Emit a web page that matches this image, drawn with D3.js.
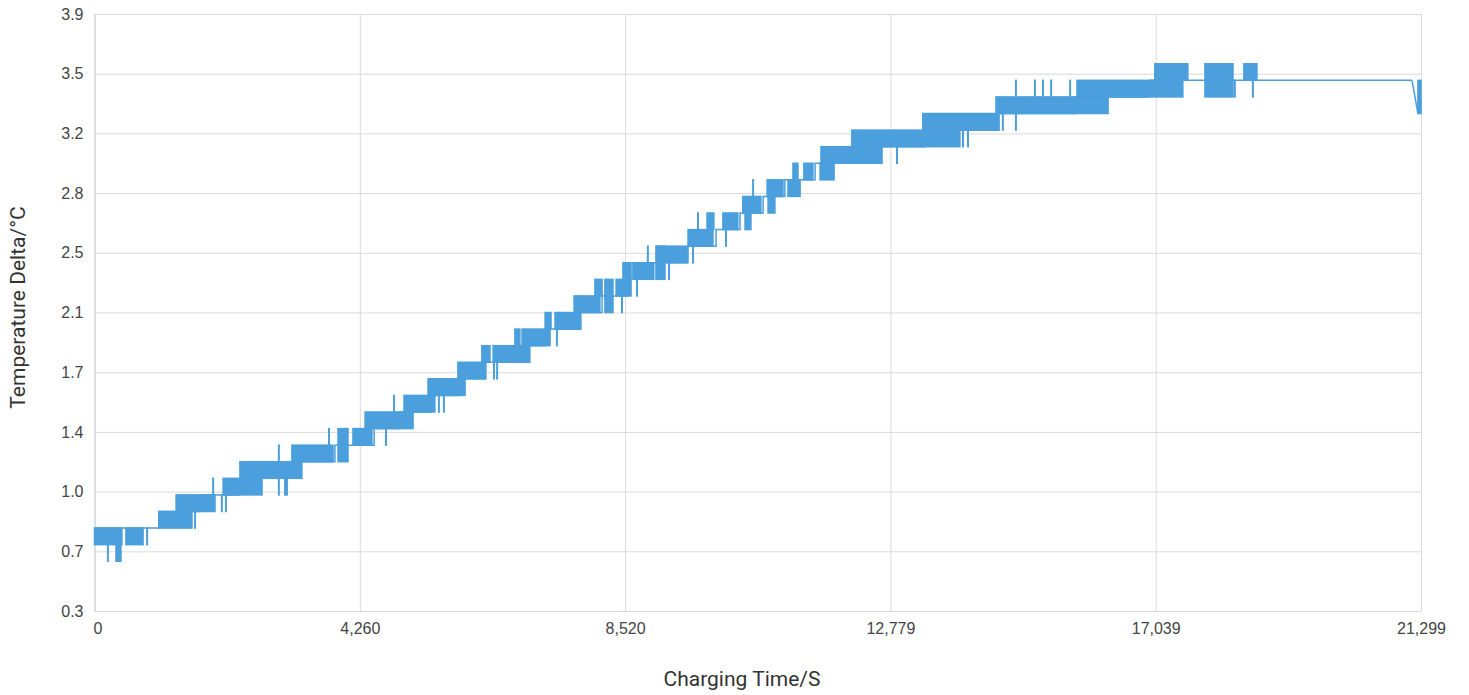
<!DOCTYPE html>
<html>
<head>
<meta charset="utf-8">
<script src="https://cdn.jsdelivr.net/npm/d3@7"></script>
<style>
    body { margin: 0; background: #fff; }
    svg { display: block; font-family: Roboto, "Noto Sans", sans-serif; }
</style>
</head>
<body>
<div id="chart"></div>
<script>
// Dense oscillation bands: the reading flips between two 0.1°C levels over a time span
const blockStart = [0, 505, 345, 1035, 1310, 2065, 2335, 3170, 3910, 4150, 4345, 4970, 5355, 5835, 6220, 6400, 6750, 6865, 7235, 7395, 7700, 7810, 8035, 8195, 8375, 8485, 8645, 9015, 9030, 9530, 9835, 10090, 10410, 10445, 10800, 10815, 11135, 11215, 11390, 11650, 11665, 12160, 13300, 14475, 15775, 17025, 17830, 18455, 21250];
const blockEnd = [440, 780, 425, 1565, 1935, 2690, 3330, 3830, 4070, 4455, 5115, 5465, 5950, 6270, 6350, 6990, 6830, 7315, 7330, 7685, 7810, 8115, 8150, 8325, 8615, 8615, 8970, 9160, 9515, 9930, 9945, 10330, 10700, 10540, 11055, 10925, 11330, 11295, 11535, 11875, 12645, 13895, 14525, 16275, 17475, 17555, 18280, 18665, 21299];
const blockLow = [0.7, 0.7, 0.6, 0.8, 0.9, 1.0, 1.1, 1.2, 1.2, 1.3, 1.4, 1.5, 1.6, 1.7, 1.8, 1.8, 1.9, 1.9, 2.0, 2.0, 2.0, 2.1, 2.2, 2.1, 2.2, 2.3, 2.3, 2.3, 2.4, 2.5, 2.6, 2.6, 2.7, 2.6, 2.8, 2.7, 2.8, 2.9, 2.9, 2.9, 3.0, 3.1, 3.2, 3.3, 3.4, 3.5, 3.4, 3.5, 3.3];
const blockHigh = [0.8, 0.8, 0.7, 0.9, 1.0, 1.1, 1.2, 1.3, 1.4, 1.4, 1.5, 1.6, 1.7, 1.8, 1.9, 1.9, 2.0, 2.0, 2.1, 2.1, 2.2, 2.2, 2.3, 2.3, 2.3, 2.4, 2.4, 2.5, 2.5, 2.6, 2.7, 2.7, 2.8, 2.7, 2.9, 2.8, 2.9, 3.0, 3.0, 3.0, 3.1, 3.2, 3.3, 3.4, 3.5, 3.6, 3.6, 3.6, 3.5];

// Single isolated jumps
const spikeTime = [215, 845, 1615, 1905, 2045, 2110, 2960, 3060, 3090, 3765, 4680, 4810, 5530, 5610, 6415, 6465, 7425, 8470, 8710, 8885, 9225, 9610, 9690, 10140, 10575, 12885, 13945, 14025, 14585, 14795, 15100, 15230, 15360, 15665, 18310, 18600];
const spikeLow = [0.6, 0.7, 0.8, 1.0, 0.9, 0.9, 1.0, 1.0, 1.0, 1.3, 1.3, 1.5, 1.5, 1.5, 1.7, 1.7, 1.9, 2.1, 2.2, 2.4, 2.3, 2.4, 2.6, 2.5, 2.8, 3.0, 3.1, 3.1, 3.2, 3.2, 3.4, 3.4, 3.4, 3.4, 3.4, 3.4];
const spikeHigh = [0.7, 0.8, 0.9, 1.1, 1.0, 1.0, 1.3, 1.1, 1.1, 1.4, 1.4, 1.6, 1.6, 1.6, 1.8, 1.8, 2.0, 2.2, 2.3, 2.5, 2.4, 2.5, 2.7, 2.6, 2.9, 3.1, 3.2, 3.2, 3.3, 3.5, 3.5, 3.5, 3.5, 3.5, 3.5, 3.5];

// Resting level of the trace between the bands
const stepTime = [0, 1035, 1695, 2335, 3140, 3860, 4490, 4905, 5385, 5870, 6285, 6830, 7235, 7795, 8150, 8565, 8980, 9530, 9980, 10365, 10735, 11085, 11570, 12130, 13335, 14505, 15745, 16945, 21155];
const stepTemp = [0.8, 0.9, 1.0, 1.1, 1.2, 1.3, 1.4, 1.5, 1.6, 1.7, 1.8, 1.9, 2.0, 2.1, 2.2, 2.3, 2.4, 2.5, 2.6, 2.7, 2.8, 2.9, 3.0, 3.1, 3.2, 3.3, 3.4, 3.5, 3.5];
const tailTime = [21155, 21250];
const tailTemp = [3.5, 3.3];

const xTicks = [0, 4259.8, 8519.6, 12779.4, 17039.2, 21299];
const yTicks = [0.3, 0.66, 1.02, 1.38, 1.74, 2.1, 2.46, 2.82, 3.18, 3.54, 3.9];

const width = 1469;
const height = 695;
const margin = { top: 14, right: 48, bottom: 84, left: 94.5 };
const innerW = width - margin.left - margin.right;
const innerH = height - margin.top - margin.bottom;
const blue = '#4a9fdc';

const svg = d3.select('#chart').append('svg')
    .attr('width', width)
    .attr('height', height);

const g = svg.append('g')
    .attr('transform', `translate(${margin.left},${margin.top})`);

// Scales
const x = d3.scaleLinear().domain([0, 21299]).range([0, innerW]);
const y = d3.scaleLinear().domain([0.3, 3.9]).range([innerH, 0]);

// Grid + axes
const yAxis = g.append('g')
    .call(d3.axisLeft(y).tickValues(yTicks).tickFormat(d3.format('.1f')).tickSize(-innerW).tickPadding(11));

const xAxis = g.append('g')
    .attr('transform', `translate(0,${innerH})`)
    .call(d3.axisBottom(x).tickValues(xTicks).tickFormat(d3.format(',.0f')).tickSize(-innerH).tickPadding(12));

[xAxis, yAxis].forEach(a => {
    a.select('.domain').attr('stroke', '#d6d6d6');
    a.selectAll('.tick line').attr('stroke', '#dadada');
    a.selectAll('.tick text')
        .attr('fill', '#444')
        .style('font-size', '16px');
});
// first x label sits a touch right of the axis in the original
xAxis.select('.tick text').attr('dx', 3);

// Resting trace
const line = d3.line()
    .x(d => x(d[0]))
    .y(d => y(d[1]));

g.append('path')
    .datum(stepTime.map((t, i) => [t, stepTemp[i]]))
    .attr('fill', 'none')
    .attr('stroke', blue)
    .attr('stroke-width', 1.5)
    .attr('d', line.curve(d3.curveStepAfter));

g.append('path')
    .datum(tailTime.map((t, i) => [t, tailTemp[i]]))
    .attr('fill', 'none')
    .attr('stroke', blue)
    .attr('stroke-width', 1.5)
    .attr('d', line.curve(d3.curveLinear));

// Oscillation bands
g.selectAll('.band')
    .data(blockStart.map((s, i) => ({ s, e: blockEnd[i], lo: blockLow[i], hi: blockHigh[i] })))
    .join('rect')
    .attr('class', 'band')
    .attr('x', d => x(d.s))
    .attr('width', d => x(d.e) - x(d.s))
    .attr('y', d => y(d.hi))
    .attr('height', d => y(d.lo) - y(d.hi))
    .attr('fill', blue)
    .attr('stroke', blue)
    .attr('stroke-width', 1.5);

// Spikes
g.selectAll('.spike')
    .data(spikeTime.map((t, i) => ({ t, lo: spikeLow[i], hi: spikeHigh[i] })))
    .join('line')
    .attr('class', 'spike')
    .attr('x1', d => x(d.t))
    .attr('x2', d => x(d.t))
    .attr('y1', d => y(d.lo) + 0.75)
    .attr('y2', d => y(d.hi) - 0.75)
    .attr('stroke', blue)
    .attr('stroke-width', 2);

// Axis titles
svg.append('text')
    .attr('x', 742)
    .attr('y', 686)
    .attr('text-anchor', 'middle')
    .attr('fill', '#333')
    .style('font-size', '21px')
    .text('Charging Time/S');

svg.append('text')
    .attr('transform', `translate(25,${margin.top + innerH / 2 - 5}) rotate(-90)`)
    .attr('text-anchor', 'middle')
    .attr('fill', '#333')
    .style('font-size', '21px')
    .text('Temperature Delta/°C');
</script>
</body>
</html>
